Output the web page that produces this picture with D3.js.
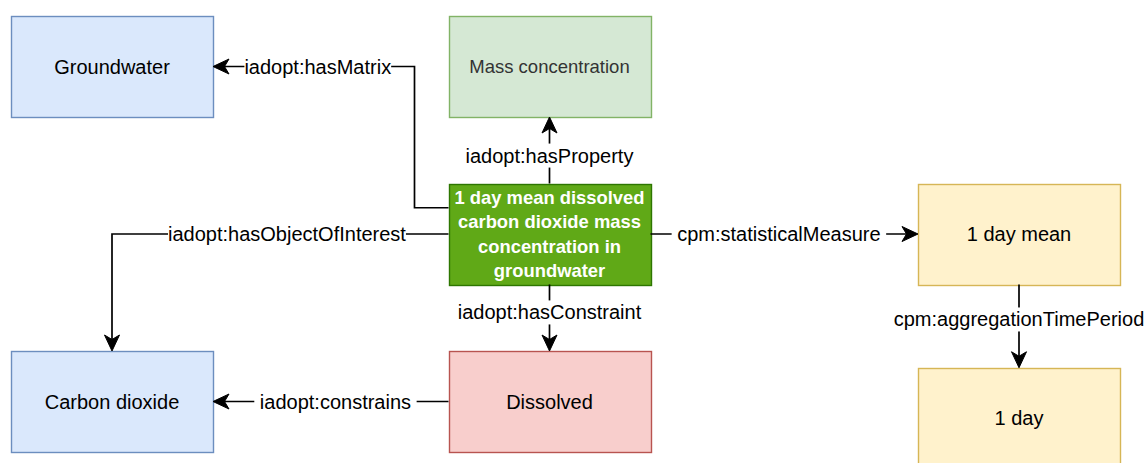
<svg id="svg" width="1148" height="463"></svg>
<script src="https://d3js.org/d3.v7.min.js"></script>
<script>
    // nodes of the diagram
    var nodeIds = ["gw", "mass", "obs", "mean", "co2", "diss", "day"];
    var nodeLabels = [
        "Groundwater",
        "Mass concentration",
        "1 day mean dissolved carbon dioxide mass concentration in groundwater",
        "1 day mean",
        "Carbon dioxide",
        "Dissolved",
        "1 day"
    ];
    var nodeKinds = ["entity", "property", "variable", "stat", "entity", "constraint", "stat"];
    var nodeCols = [0, 1, 1, 2, 0, 1, 2];
    var nodeRows = [0, 0, 1, 1, 2, 2, 2.1];

    // edges
    var edgeSources = ["obs", "obs", "obs", "obs", "obs", "diss", "mean"];
    var edgeTargets = ["gw", "mass", "co2", "mean", "diss", "co2", "day"];
    var edgeLabels = [
        "iadopt:hasMatrix",
        "iadopt:hasProperty",
        "iadopt:hasObjectOfInterest",
        " cpm:statisticalMeasure ",
        "iadopt:hasConstraint",
        " iadopt:constrains ",
        "cpm:aggregationTimePeriod"
    ];
    var edgeRoutes = ["elbow", "straight", "corner", "straight", "straight", "straight", "straight"];

    var W = 1148, H = 463;
    var boxW = 202, boxH = 101;

    var styles = {
        entity: { fill: "#dae8fc", stroke: "#6c8ebf", color: "#000", size: 20, weight: "normal" },
        property: { fill: "#d5e8d4", stroke: "#82b366", color: "#333", size: 18.5, weight: "normal" },
        variable: { fill: "#60a917", stroke: "#2d7600", color: "#fff", size: 18.4, weight: "bold" },
        stat: { fill: "#fff2cc", stroke: "#d6b656", color: "#000", size: 20, weight: "normal" },
        constraint: { fill: "#f8cecc", stroke: "#b85450", color: "#000", size: 20, weight: "normal" }
    };

    var x = d3.scaleOrdinal().domain([0, 1, 2]).range([112, 549.5, 1019]);
    var y = d3.scaleLinear().domain([0, 1]).range([66.5, 234]);

    var nodes = nodeIds.map(function (id, i) {
        var cx = x(nodeCols[i]), cy = y(nodeRows[i]);
        return {
            id: id, label: nodeLabels[i], kind: nodeKinds[i],
            cx: cx, cy: cy,
            left: cx - boxW / 2, right: cx + boxW / 2,
            top: cy - boxH / 2, bottom: cy + boxH / 2
        };
    });
    var byId = {};
    nodes.forEach(function (n) { byId[n.id] = n; });

    function route(s, t, kind) {
        if (kind === "elbow") {
            var ey = s.cy - boxH * 0.26, ex = s.left - 34;
            return [[s.left, ey], [ex, ey], [ex, t.cy], [t.right, t.cy]];
        }
        if (kind === "corner") {
            return [[s.left, s.cy], [t.cx, s.cy], [t.cx, t.top]];
        }
        if (Math.abs(s.cy - t.cy) < 1) {
            return s.cx < t.cx ? [[s.right, s.cy], [t.left, t.cy]] : [[s.left, s.cy], [t.right, t.cy]];
        }
        return s.cy < t.cy ? [[s.cx, s.bottom], [t.cx, t.top]] : [[s.cx, s.top], [t.cx, t.bottom]];
    }

    var edges = edgeSources.map(function (src, i) {
        var pts = route(byId[src], byId[edgeTargets[i]], edgeRoutes[i]);
        return { label: edgeLabels[i], pts: pts };
    });

    var svg = d3.select("#svg");
    svg.append("rect").attr("width", W).attr("height", H).attr("fill", "#fff");

    // boxes
    var g = svg.append("g");
    g.selectAll("rect.node")
        .data(nodes)
        .enter()
        .append("rect")
        .attr("class", "node")
        .attr("x", function (d) { return Math.round(d.left) + 0.5; })
        .attr("y", function (d) { return Math.round(d.top) + 0.5; })
        .attr("width", boxW)
        .attr("height", boxH)
        .attr("fill", function (d) { return styles[d.kind].fill; })
        .attr("stroke", function (d) { return styles[d.kind].stroke; })
        .attr("stroke-width", 1.4);

    nodes.forEach(function (d) {
        var st = styles[d.kind];
        var txt = g.append("text")
            .attr("text-anchor", "middle")
            .attr("font-family", "'Liberation Sans', Arial, Helvetica, sans-serif")
            .attr("font-size", st.size)
            .attr("font-weight", st.weight)
            .attr("fill", st.color);
        // wrap words to the box width
        var words = d.label.split(" "), lines = [], line = [];
        var probe = txt.append("tspan");
        words.forEach(function (w) {
            line.push(w);
            probe.text(line.join(" "));
            if (probe.node().getComputedTextLength() > boxW - 8 && line.length > 1) {
                line.pop();
                lines.push(line.join(" "));
                line = [w];
            }
        });
        lines.push(line.join(" "));
        probe.remove();
        var lh = 24.4;
        var y0 = d.cy - (lines.length - 1) * lh / 2;
        lines.forEach(function (l, k) {
            txt.append("tspan")
                .attr("x", d.cx)
                .attr("y", y0 + k * lh)
                .attr("dy", "0.35em")
                .text(l);
        });
    });

    // edges
    var line = d3.line();
    var eg = svg.append("g");
    edges.forEach(function (e) {
        var p = e.pts.map(function (q) { return q.slice(); });
        var n = p.length;
        var a = p[n - 2], b = p[n - 1];
        var ang = Math.atan2(b[1] - a[1], b[0] - a[0]);
        // stop the line inside the arrow head
        var shortLine = p.slice();
        shortLine[n - 1] = [b[0] - Math.cos(ang) * 10, b[1] - Math.sin(ang) * 10];
        eg.append("path")
            .attr("d", line(shortLine))
            .attr("fill", "none")
            .attr("stroke", "#000")
            .attr("stroke-width", 1.7);
        eg.append("path")
            .attr("d", "M0,0 L-16,-7.5 L-11.5,0 L-16,7.5 Z")
            .attr("transform", "translate(" + b[0] + "," + b[1] + ") rotate(" + (ang * 180 / Math.PI) + ")")
            .attr("fill", "#000")
            .attr("stroke", "#000")
            .attr("stroke-width", 1)
            .attr("stroke-linejoin", "miter");

        // label on the longest segment
        var best = 0, bestLen = -1;
        for (var i = 0; i < n - 1; i++) {
            var len = Math.hypot(p[i + 1][0] - p[i][0], p[i + 1][1] - p[i][1]);
            if (len > bestLen) { bestLen = len; best = i; }
        }
        var s0 = p[best], s1 = p[best + 1];
        var vertical = Math.abs(s0[0] - s1[0]) < 1;
        var t = vertical ? 0.42 : 0.48;
        var lx = s0[0] + (s1[0] - s0[0]) * t;
        var ly = s0[1] + (s1[1] - s0[1]) * t;

        var lg = eg.append("g");
        var bg = lg.append("rect").attr("fill", "#fff");
        var lt = lg.append("text")
            .attr("x", lx)
            .attr("y", ly)
            .attr("dy", "0.35em")
            .attr("text-anchor", "middle")
            .attr("font-family", "'Liberation Sans', Arial, Helvetica, sans-serif")
            .attr("font-size", 20)
            .attr("fill", "#000")
            .style("white-space", "pre")
            .text(e.label);
        var tw = lt.node().getComputedTextLength();
        bg.attr("x", lx - tw / 2)
            .attr("y", ly - 12)
            .attr("width", tw)
            .attr("height", 24);
    });
</script>
<style>
    html,
    body {
        margin: 0;
        padding: 0;
    }
</style>
